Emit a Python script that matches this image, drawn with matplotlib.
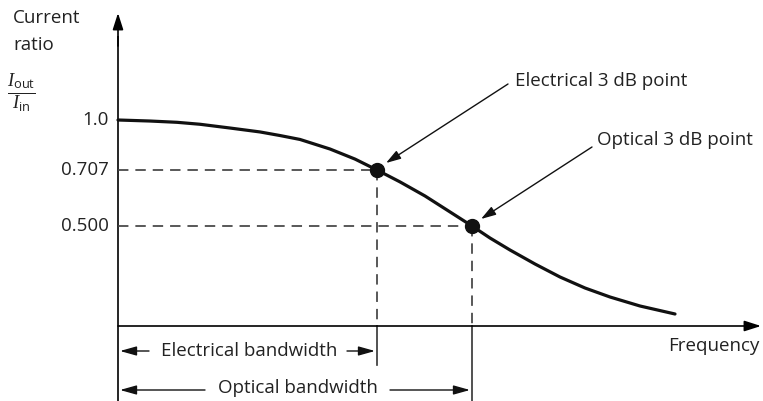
import numpy as np
import matplotlib
matplotlib.use("Agg")
import matplotlib.pyplot as plt
from matplotlib.scale import FuncScale

plt.rcParams['font.family'] = ['Open Sans', 'DejaVu Sans']
plt.rcParams['mathtext.fontset'] = 'custom'
plt.rcParams['mathtext.it'] = 'Liberation Serif:italic'
plt.rcParams['mathtext.rm'] = 'Open Sans'
plt.rcParams['mathtext.sf'] = 'Open Sans'

# ---- data ----
frequency = [0.0, 0.32, 0.59, 0.82, 1.12, 1.42, 1.62, 1.82, 2.12, 2.37, 2.59,
             2.82, 3.07, 3.32, 3.54, 3.72, 3.92, 4.17, 4.42, 4.67, 4.92, 5.22, 5.57]
current_ratio = [1.0, 0.994, 0.9865, 0.975, 0.953, 0.930, 0.909, 0.886, 0.830,
                 0.771, 0.707, 0.663, 0.611, 0.552, 0.500, 0.44, 0.38, 0.31,
                 0.245, 0.19, 0.145, 0.10, 0.06]
tick_values = [1.0, 0.707, 0.5]
tick_labels = ["1.0", "0.707", "0.500"]
f_electrical = 2.59
f_optical = 3.54
r_electrical = 0.707
r_optical = 0.5

# ---- schematic (non-linear) vertical scale ----
_v = np.array([-10.0, 0.0, 0.5, 0.707, 1.0, 10.0])
_h = np.array([-2000.0, 0.0, 100.0, 156.0, 206.0, 2006.0])
def fwd(v):
    return np.interp(v, _v, _h)
def inv(h):
    return np.interp(h, _h, _v)

W, H = 763, 401
fig = plt.figure(figsize=(W / 100, H / 100), dpi=100)
ax = fig.add_axes([0, 0, 1, 1])
ax.set_yscale(FuncScale(ax.yaxis, (fwd, inv)))
ax.set_xlim(-1.18, 6.45)
ax.set_ylim(inv(-75), inv(326))
ax.axis('off')

def P(px, py):
    """figure-pixel position -> axes fraction (for layout only)"""
    return (px / W, 1 - py / H)

txt = '#222222'
fs = 13.5

# axes with arrows
ax.plot([0, 0], [inv(-80), inv(290)], color='black', lw=1.2, solid_capstyle='butt')
ax_arrow = dict(arrowstyle='-|>,head_length=1.0,head_width=0.32',
                color='black', lw=1.2, shrinkA=0, shrinkB=0)
ax.annotate("", xy=P(118, 13), xycoords='axes fraction',
            xytext=(0, inv(280)), textcoords='data', arrowprops=ax_arrow)
ax.annotate("", xy=P(761, 326), xycoords='axes fraction',
            xytext=(0, 0), textcoords='data', arrowprops=ax_arrow)

# dashed guides
dash = (0, (6, 4))
gray = '#444444'
for fv, rv in [(f_electrical, r_electrical), (f_optical, r_optical)]:
    ax.plot([0, fv], [rv, rv], color=gray, lw=1.25, linestyle=dash)
    ax.plot([fv, fv], [rv, 0], color=gray, lw=1.25, linestyle=dash)
# solid extension lines below the axis
ax.plot([f_electrical, f_electrical], [0, inv(-39)], color='#333333', lw=1.2)
ax.plot([f_optical, f_optical], [0, inv(-80)], color='#333333', lw=1.2)

# curve and points
ax.plot(frequency, current_ratio, color='#111111', lw=2.3,
        solid_capstyle='round', solid_joinstyle='round')
ax.plot([f_electrical, f_optical], [r_electrical, r_optical], 'o',
        color='#111111', markersize=10)

# tick labels
for val, lab in zip(tick_values, tick_labels):
    ax.text(-0.09, val, lab, ha='right', va='center', fontsize=fs, color=txt)

# axis labels
ax.text(*P(13, 18), "Current", transform=ax.transAxes, ha='left', va='center',
        fontsize=fs, color=txt)
ax.text(*P(13, 45), "ratio", transform=ax.transAxes, ha='left', va='center',
        fontsize=fs, color=txt)
ax.text(*P(21, 93), r"$\frac{I_{\mathrm{out}}}{I_{\mathrm{in}}}$", transform=ax.transAxes,
        ha='center', va='center', fontsize=19, color=txt)
ax.text(*P(714, 346), "Frequency", transform=ax.transAxes, ha='center', va='center',
        fontsize=fs, color=txt)

# 3 dB point annotations
arrow_kw = dict(arrowstyle='-|>,head_length=0.9,head_width=0.28', color='#111111',
                lw=1.0, shrinkA=0, shrinkB=0)
ax.annotate("", xy=(f_electrical + 0.09, inv(326 - 163)), xycoords='data',
            xytext=P(508, 84), textcoords='axes fraction', arrowprops=arrow_kw)
ax.text(*P(515, 81), "Electrical 3 dB point", transform=ax.transAxes,
        ha='left', va='center', fontsize=fs, color=txt)
ax.annotate("", xy=(f_optical + 0.09, inv(326 - 219)), xycoords='data',
            xytext=P(592, 147), textcoords='axes fraction', arrowprops=arrow_kw)
ax.text(*P(597, 140), "Optical 3 dB point", transform=ax.transAxes,
        ha='left', va='center', fontsize=fs, color=txt)

# bandwidth arrows
bw_kw = dict(arrowstyle='-|>,head_length=1.0,head_width=0.28', color='#111111',
             lw=1.0, shrinkA=0, shrinkB=0)
def bw_arrow(x_from, x_to, y):
    ax.annotate("", xy=(x_to, y), xycoords='data', xytext=(x_from, y),
                textcoords='data', arrowprops=bw_kw)

y_e = inv(326 - 351)
bw_arrow(0.31, 0.02, y_e)
bw_arrow(2.29, 2.57, y_e)
ax.text(1.31, y_e, "Electrical bandwidth", ha='center', va='center',
        fontsize=fs, color=txt)

y_o = inv(326 - 390)
bw_arrow(0.87, 0.02, y_o)
bw_arrow(2.72, 3.52, y_o)
ax.text(1.80, inv(326 - 388), "Optical bandwidth", ha='center', va='center',
        fontsize=fs, color=txt)

fig.savefig("out.png", dpi=100)
